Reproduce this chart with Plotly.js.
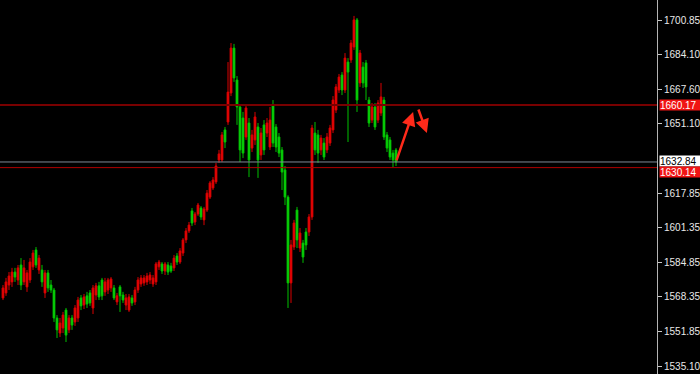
<!DOCTYPE html>
<html>
<head>
<meta charset="utf-8">
<script src="https://cdn.plot.ly/plotly-3.0.1.min.js"></script>
<style>
  html, body { margin: 0; padding: 0; background: #000; }
  #chart { width: 700px; height: 374px; }
</style>
</head>
<body>
<div id="chart"></div>
<script>
// Bar prices (oldest first)
const openPrices = [
  1567.7, 1570.1, 1573.9, 1575.4, 1580.1, 1576.3, 1583.5, 1575.4, 1573.0, 1576.3,
  1582.6, 1590.7, 1581.1, 1581.1, 1570.1, 1579.7, 1573.9, 1571.5, 1558.1, 1550.9,
  1553.3, 1561.9, 1552.4, 1558.1, 1556.2, 1558.1, 1567.7, 1564.3, 1568.7, 1570.1,
  1562.9, 1569.1, 1573.5, 1576.3, 1570.6, 1571.5, 1572.5, 1572.5, 1565.8, 1573.0,
  1569.1, 1564.3, 1561.9, 1567.7, 1565.8, 1571.5, 1574.4, 1574.9, 1575.4, 1576.3,
  1574.4, 1575.4, 1582.6, 1584.0, 1580.6, 1583.5, 1583.0, 1582.1, 1587.8, 1584.9,
  1589.2, 1595.5, 1599.8, 1609.4, 1604.1, 1607.9, 1610.8, 1605.1, 1609.8, 1616.0,
  1620.4, 1623.3, 1633.8, 1633.8, 1648.2, 1652.0, 1665.9, 1687.4, 1672.1, 1659.2,
  1653.9, 1644.8, 1651.5, 1639.5, 1643.4, 1649.6, 1636.2, 1650.6, 1646.7, 1640.0,
  1660.1, 1649.6, 1644.8, 1638.6, 1629.0, 1616.0, 1574.9, 1592.1, 1609.8, 1591.6,
  1594.0, 1599.3, 1599.3, 1606.5, 1646.7, 1645.8, 1638.6, 1641.9, 1638.6, 1641.9,
  1648.2, 1657.7, 1667.3, 1674.5, 1667.3, 1680.7, 1681.7, 1687.9, 1700.9, 1670.7,
  1678.3, 1680.3, 1662.5, 1652.9, 1659.2, 1652.9, 1656.3, 1662.5, 1645.8, 1643.4,
  1637.1, 1638.6
];
const highPrices = [
  1573.9, 1577.3, 1580.1, 1582.1, 1582.1, 1583.5, 1586.8, 1585.9, 1581.1, 1586.8,
  1590.7, 1592.1, 1588.3, 1583.5, 1581.1, 1581.1, 1576.3, 1572.5, 1559.5, 1558.1,
  1561.0, 1562.9, 1559.5, 1559.5, 1564.3, 1568.2, 1569.1, 1569.6, 1570.6, 1571.5,
  1573.9, 1574.9, 1575.4, 1577.3, 1577.3, 1577.3, 1577.7, 1573.9, 1570.1, 1573.9,
  1570.6, 1569.6, 1569.6, 1569.1, 1573.0, 1577.7, 1578.7, 1578.7, 1579.7, 1580.1,
  1578.7, 1584.9, 1585.9, 1584.9, 1584.9, 1584.9, 1584.5, 1588.3, 1589.2, 1591.6,
  1596.4, 1601.2, 1604.1, 1610.8, 1608.9, 1613.2, 1611.7, 1611.3, 1619.4, 1623.7,
  1625.6, 1632.4, 1638.6, 1647.2, 1649.6, 1680.7, 1689.8, 1689.4, 1674.0, 1660.6,
  1656.8, 1660.6, 1653.9, 1648.2, 1656.8, 1651.5, 1649.1, 1652.9, 1653.9, 1659.2,
  1662.5, 1651.0, 1646.7, 1640.0, 1630.9, 1616.9, 1595.5, 1605.1, 1611.3, 1601.2,
  1595.5, 1601.2, 1607.9, 1650.6, 1652.0, 1648.2, 1645.8, 1644.3, 1646.7, 1650.6,
  1664.4, 1670.2, 1675.0, 1675.9, 1685.0, 1682.6, 1691.3, 1702.8, 1701.8, 1686.5,
  1680.7, 1681.7, 1664.0, 1661.1, 1661.1, 1662.5, 1670.7, 1664.0, 1647.2, 1644.8,
  1638.6, 1639.5
];
const lowPrices = [
  1566.7, 1568.7, 1571.5, 1573.0, 1575.4, 1573.9, 1571.5, 1573.9, 1570.6, 1574.9,
  1581.1, 1582.1, 1579.2, 1573.0, 1567.7, 1570.6, 1570.1, 1556.2, 1548.5, 1549.0,
  1550.9, 1546.6, 1550.9, 1552.4, 1554.3, 1556.2, 1561.9, 1562.4, 1562.9, 1563.9,
  1560.0, 1566.7, 1566.7, 1566.7, 1568.7, 1569.6, 1570.6, 1566.7, 1564.3, 1561.0,
  1565.3, 1561.9, 1561.0, 1563.9, 1564.3, 1570.1, 1573.0, 1573.5, 1573.9, 1574.4,
  1573.0, 1573.9, 1581.1, 1579.2, 1578.7, 1578.7, 1579.7, 1580.6, 1583.5, 1584.0,
  1587.8, 1594.0, 1598.8, 1602.2, 1602.6, 1607.0, 1605.1, 1602.6, 1608.9, 1615.1,
  1619.4, 1622.3, 1632.4, 1632.8, 1639.5, 1650.6, 1664.4, 1671.2, 1650.6, 1632.8,
  1634.7, 1643.4, 1625.6, 1637.6, 1641.0, 1625.2, 1633.8, 1636.2, 1644.8, 1638.6,
  1640.0, 1637.6, 1635.2, 1619.4, 1612.2, 1562.9, 1565.3, 1590.7, 1591.6, 1589.7,
  1584.5, 1590.7, 1597.4, 1605.1, 1636.2, 1632.4, 1636.2, 1633.8, 1637.1, 1640.5,
  1646.7, 1656.3, 1665.9, 1664.9, 1665.9, 1642.4, 1680.3, 1686.5, 1656.8, 1668.8,
  1668.3, 1662.5, 1649.6, 1651.5, 1648.2, 1651.5, 1654.9, 1643.4, 1637.6, 1633.8,
  1630.4, 1630.9
];
const closePrices = [
  1572.5, 1575.4, 1578.2, 1580.1, 1577.7, 1582.1, 1573.9, 1582.1, 1579.7, 1584.9,
  1589.2, 1583.5, 1586.8, 1575.4, 1579.7, 1572.5, 1571.5, 1558.1, 1552.4, 1555.7,
  1559.5, 1549.9, 1558.1, 1554.7, 1562.9, 1566.7, 1563.9, 1568.2, 1564.8, 1565.3,
  1572.5, 1573.5, 1568.2, 1568.7, 1575.4, 1576.3, 1576.8, 1567.7, 1568.7, 1568.7,
  1566.7, 1567.7, 1568.2, 1565.3, 1571.5, 1576.3, 1577.3, 1577.3, 1578.2, 1578.7,
  1577.3, 1584.0, 1584.9, 1580.6, 1584.0, 1580.1, 1580.6, 1586.8, 1584.9, 1590.2,
  1595.5, 1599.8, 1602.6, 1603.6, 1607.9, 1612.2, 1606.5, 1610.3, 1617.9, 1622.8,
  1624.2, 1630.9, 1636.7, 1645.8, 1642.4, 1666.3, 1687.4, 1673.1, 1659.2, 1638.6,
  1637.1, 1658.7, 1633.8, 1645.8, 1654.4, 1633.8, 1646.7, 1638.6, 1651.5, 1652.9,
  1641.9, 1640.0, 1637.1, 1628.0, 1616.0, 1574.9, 1593.1, 1603.6, 1595.5, 1598.8,
  1587.3, 1593.1, 1606.5, 1649.1, 1638.6, 1637.1, 1644.3, 1635.2, 1644.8, 1649.1,
  1662.5, 1668.8, 1673.5, 1667.3, 1682.6, 1675.9, 1689.8, 1700.9, 1662.5, 1685.0,
  1670.7, 1668.8, 1651.5, 1659.2, 1649.6, 1661.1, 1664.0, 1644.8, 1639.5, 1635.2,
  1633.8, 1632.84
];

// Price scale labels on the right (the level near 1634.60 sits under the price tags)
const tickValues = [1700.85, 1684.10, 1667.60, 1651.10, 1617.85, 1601.35, 1584.85, 1568.35, 1551.85, 1535.10];
const tickLabels = ["1700.85", "1684.10", "1667.60", "1651.10", "1617.85", "1601.35", "1584.85", "1568.35", "1551.85", "1535.10"];

// Horizontal levels
const resistanceLevel = 1660.17;
const bidLevel = 1632.84;
const supportLevel = 1630.14;

const barIndex = closePrices.map((_, i) => i);

const trace = {
  type: 'candlestick',
  x: barIndex,
  open: openPrices,
  high: highPrices,
  low: lowPrices,
  close: closePrices,
  increasing: { line: { color: '#d80000', width: 1 }, fillcolor: '#ff0a0a' },
  decreasing: { line: { color: '#00c000', width: 1 }, fillcolor: '#14f014' },
  whiskerwidth: 0,
  hoverinfo: 'skip',
  showlegend: false
};

const labelFont = { family: 'Liberation Sans, Arial, sans-serif', size: 10 };

function priceTag(value, bg, fg, yshift) {
  return {
    xref: 'paper', yref: 'y', x: 1, y: value,
    xanchor: 'left', yanchor: 'middle', xshift: 2, yshift: yshift,
    text: value.toFixed(2), showarrow: false,
    bgcolor: bg, borderpad: 0, width: 41, height: 10, align: 'left',
    font: Object.assign({}, labelFont, { color: fg })
  };
}

function hLine(value, color, width) {
  return {
    type: 'line', xref: 'paper', yref: 'y', x0: 0, x1: 1, y0: value, y1: value,
    line: { color: color, width: width }
  };
}

const arrowStyle = {
  xref: 'x', yref: 'y', axref: 'x', ayref: 'y', text: '',
  showarrow: true, arrowhead: 2, arrowsize: 1.1, arrowwidth: 2.5, arrowcolor: '#ff2a1a',
  standoff: 0, startstandoff: 0
};

const layout = {
  width: 700,
  height: 374,
  margin: { l: 0, r: 43, t: 0, b: 0, pad: 0 },
  paper_bgcolor: '#000000',
  plot_bgcolor: '#000000',
  showlegend: false,
  hovermode: false,
  boxgap: 0.15,
  xaxis: {
    range: [-1, 218],
    visible: false,
    showgrid: false,
    zeroline: false,
    rangeslider: { visible: false }
  },
  yaxis: {
    side: 'right',
    range: [1531.27, 1710.43],
    tickmode: 'array',
    tickvals: tickValues,
    ticktext: tickLabels,
    ticks: 'outside',
    ticklen: 4,
    tickcolor: '#c8c8c8',
    showline: true,
    linecolor: '#b4b4b4',
    linewidth: 1,
    showgrid: false,
    zeroline: false,
    tickfont: Object.assign({}, labelFont, { color: '#e8e8e8' })
  },
  shapes: [
    hLine(resistanceLevel, '#780000', 2),
    hLine(bidLevel, '#7d8a98', 1),
    hLine(supportLevel, '#b00000', 1)
  ],
  annotations: [
    priceTag(resistanceLevel, '#f01414', '#ffffff', 0),
    priceTag(bidLevel, '#ffffff', '#000000', 1),
    priceTag(supportLevel, '#f01414', '#ffffff', -4),
    Object.assign({}, arrowStyle, { x: 136.7, y: 1656.8, ax: 131.0, ay: 1632.84 }),
    Object.assign({}, arrowStyle, { x: 141.3, y: 1646.7, ax: 138.3, ay: 1658.7 })
  ]
};

Plotly.newPlot('chart', [trace], layout, { displayModeBar: false, staticPlot: true });
</script>
</body>
</html>
